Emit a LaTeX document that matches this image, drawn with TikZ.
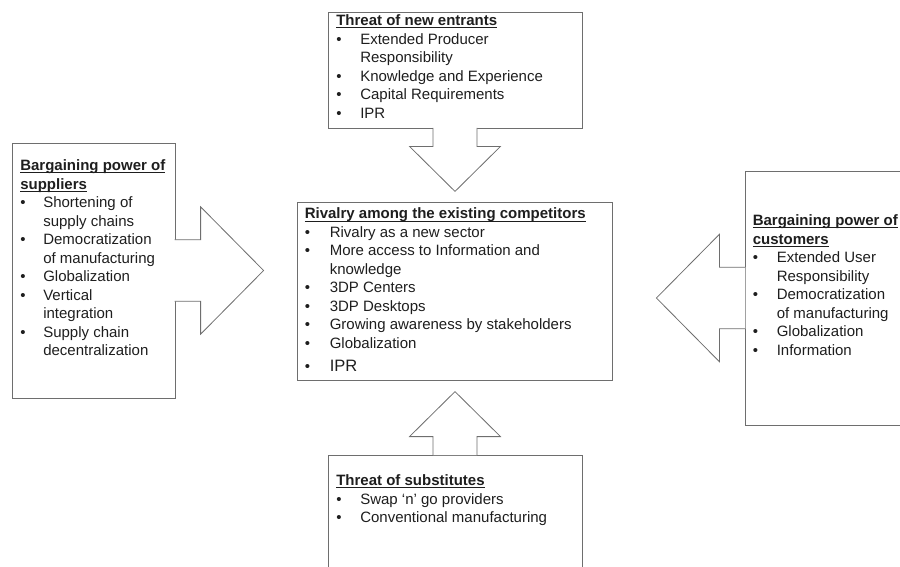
\documentclass[tikz,border=0pt]{standalone}
\usepackage{fontspec}
\setmainfont{Liberation Sans}
\usetikzlibrary{calc}

\definecolor{boxgray}{RGB}{110,110,110}
\definecolor{inkgray}{RGB}{30,30,30}

% underlined bold heading, spans both columns
\newcommand{\forcehead}[1]{\multicolumn{2}{@{}l@{}}{%
  \setbox0\hbox{\bfseries #1}\rlap{\rule[-2.5pt]{\wd0}{0.9pt}}\box0}\\}
\newcommand{\bpt}{\textbullet &}
% block arrow: base point, direction, size
\newcommand{\fatarrow}[3]{%
  \filldraw[blockarrow, shift={(#1)}, rotate=#2, scale=#3]
    (-0.6,-22) -- (18,-22) -- (18,-45.5) -- (63,0) -- (18,45.5) -- (18,22) -- (-0.6,22);}

\begin{document}
\begin{tikzpicture}[x=1pt, y=-1pt,
  forcebox/.style={draw=boxgray, line width=0.8pt, inner sep=0pt},
  forcetext/.style={anchor=base west, inner sep=0pt, text=inkgray,
    font=\fontsize{15}{18.5}\selectfont},
  blockarrow/.style={draw=boxgray, fill=white, line width=0.8pt}]

  \useasboundingbox (0,0) rectangle (900,566);

  % the five boxes
  \node[forcebox, minimum width=254pt, minimum height=116pt] (entrants) at (455,70) {};
  \node[forcebox, minimum width=163pt, minimum height=255pt] (suppliers) at (93.5,270.5) {};
  \node[forcebox, minimum width=315pt, minimum height=178pt] (rivalry) at (454.5,291) {};
  \node[forcebox, minimum width=170pt, minimum height=254pt] (customers) at (830,298) {};
  \node[forcebox, minimum width=254pt, minimum height=130pt] (substitutes) at (455,520) {};

  % block arrows towards the centre box
  \fatarrow{entrants.south}{-90}{1}
  \fatarrow{substitutes.north}{90}{1}
  \fatarrow{suppliers.east}{0}{1.4}
  \fatarrow{customers.west}{180}{1.4}

  % texts
  \node[forcetext] (entrantsList) at ($(entrants.north west)+(8.5,14)$) {%
    \begin{tabular}[t]{@{}p{24pt}@{}l@{}}
      \forcehead{Threat of new entrants}
      \bpt Extended Producer\\
      & Responsibility\\
      \bpt Knowledge and Experience\\
      \bpt Capital Requirements\\
      \bpt IPR
    \end{tabular}};

  \node[forcetext] (suppliersList) at ($(suppliers.north west)+(8.5,28)$) {%
    \begin{tabular}[t]{@{}p{23pt}@{}l@{}}
      \forcehead{Bargaining power of}
      \forcehead{suppliers}
      \bpt Shortening of\\
      & supply chains\\
      \bpt Democratization\\
      & of manufacturing\\
      \bpt Globalization\\
      \bpt Vertical\\
      & integration\\
      \bpt Supply chain\\
      & decentralization
    \end{tabular}};

  \node[forcetext] (rivalryList) at ($(rivalry.north west)+(8,17.3)$) {%
    \begin{tabular}[t]{@{}p{25pt}@{}l@{}}
      \forcehead{Rivalry among the existing competitors}
      \bpt Rivalry as a new sector\\
      \bpt More access to Information and\\
      & knowledge\\
      \bpt 3DP Centers\\
      \bpt 3DP Desktops\\
      \bpt Growing awareness by stakeholders\\
      \bpt Globalization\\[4.5pt]
      \bpt {\fontsize{16.5}{18.5}\selectfont IPR}
    \end{tabular}};

  \node[forcetext] (customersList) at ($(customers.north west)+(8,55)$) {%
    \begin{tabular}[t]{@{}p{24pt}@{}l@{}}
      \forcehead{Bargaining power of}
      \forcehead{customers}
      \bpt Extended User\\
      & Responsibility\\
      \bpt Democratization\\
      & of manufacturing\\
      \bpt Globalization\\
      \bpt Information
    \end{tabular}};

  \node[forcetext] (substitutesList) at ($(substitutes.north west)+(8.5,31)$) {%
    \begin{tabular}[t]{@{}p{24pt}@{}l@{}}
      \forcehead{Threat of substitutes}
      \bpt Swap `n' go providers\\
      \bpt Conventional manufacturing
    \end{tabular}};
\end{tikzpicture}
\end{document}
